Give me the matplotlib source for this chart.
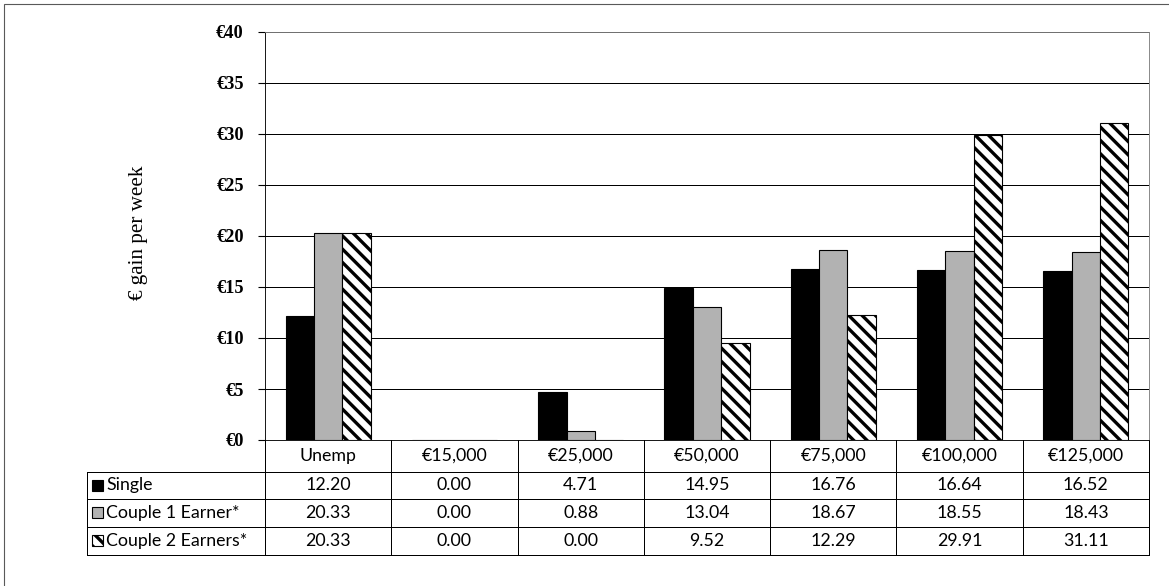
import matplotlib
matplotlib.use('Agg')
import matplotlib.pyplot as plt
import matplotlib.transforms as mtransforms
from matplotlib.patches import Rectangle
from matplotlib.lines import Line2D
import numpy as np

categories = ['Unemp', '€15,000', '€25,000', '€50,000', '€75,000', '€100,000', '€125,000']
series_names = ['Single', 'Couple 1 Earner*', 'Couple 2 Earners*']
single = [12.20, 0.00, 4.71, 14.95, 16.76, 16.64, 16.52]
couple_1_earner = [20.33, 0.00, 0.88, 13.04, 18.67, 18.55, 18.43]
couple_2_earners = [20.33, 0.00, 0.00, 9.52, 12.29, 29.91, 31.11]
yticks = [0, 5, 10, 15, 20, 25, 30, 35, 40]

plt.rcParams['hatch.linewidth'] = 3.0
plt.rcParams['hatch.color'] = 'black'

W, H, DPI = 1169, 586, 80
fig = plt.figure(figsize=(W / DPI, H / DPI), dpi=DPI)
ax = fig.add_axes([265 / W, 1 - 440 / H, (1149 - 265) / W, (440 - 32) / H])

x = np.arange(len(categories))
bw = 0.225
styles = [
    dict(facecolor='black', edgecolor='black'),
    dict(facecolor='#b2b2b2', edgecolor='black'),
    dict(facecolor='white', edgecolor='black', hatch='\\\\'),
]
all_series = [single, couple_1_earner, couple_2_earners]
for k, (vals, st) in enumerate(zip(all_series, styles)):
    ax.bar(x + (k - 1) * bw, vals, bw, linewidth=1.0, zorder=3, **st)

ax.set_xlim(-0.5, len(categories) - 0.5)
ax.set_ylim(0, 40)
ax.set_yticks(yticks)
ax.set_yticklabels([f'€{v}' for v in yticks], fontfamily='Liberation Serif',
                   fontweight='bold', fontsize=16.5)
ax.tick_params(axis='y', direction='out', length=6, width=1, pad=13)
ax.set_xticks([])
ax.yaxis.grid(True, color='black', linewidth=0.9, zorder=0)
ax.set_axisbelow(True)
for side in ['top', 'right']:
    ax.spines[side].set_color('#7f7f7f')
ax.spines['left'].set_color('black')
ax.spines['bottom'].set_color('black')

fig.text(138 / W, 1 - 233 / H, '€ gain per week', rotation=90, ha='center', va='center',
         fontfamily='Liberation Serif', fontsize=19)

# Data table under the plot
trans = mtransforms.blended_transform_factory(ax.transData, ax.transAxes)
row_y = [0, -0.0784, -0.1446, -0.213, -0.282]
col_px = (1149 - 265) / len(categories)
label_left = -0.5 - (265 - 87) / col_px
x_right = len(categories) - 0.5
line_kw = dict(color='black', linewidth=0.9, transform=trans, clip_on=False)

for yy in row_y[1:]:
    ax.add_line(Line2D([label_left, x_right], [yy, yy], **line_kw))
for i in range(len(categories) + 1):
    xx = i - 0.5
    ax.add_line(Line2D([xx, xx], [0, row_y[-1]], **line_kw))
ax.add_line(Line2D([label_left, label_left], [row_y[1], row_y[-1]], **line_kw))

tfont = dict(fontfamily='Lato', fontsize=16, transform=trans, clip_on=False)
for i, cat in enumerate(categories):
    ax.text(i, (row_y[0] + row_y[1]) / 2, cat, ha='center', va='center', **tfont)

key_w = 11 / col_px
key_h = 11 / (440 - 32)
for r, (name, vals, st) in enumerate(zip(series_names, all_series, styles)):
    yc = (row_y[r + 1] + row_y[r + 2]) / 2
    ax.add_patch(Rectangle((label_left + 5 / col_px, yc - key_h / 2), key_w, key_h,
                           transform=trans, clip_on=False, linewidth=1.0, **st))
    ax.text(label_left + 19 / col_px, yc, name, ha='left', va='center', **tfont)
    for i, v in enumerate(vals):
        ax.text(i, yc, f'{v:.2f}', ha='center', va='center', **tfont)

# outer chart frame
fig.patches.append(Rectangle((4 / W, -0.05), 1.1, 1 - 4 / H + 0.05, transform=fig.transFigure,
                             fill=False, edgecolor='#595959', linewidth=1.0))

fig.savefig('out.png', dpi=DPI)
